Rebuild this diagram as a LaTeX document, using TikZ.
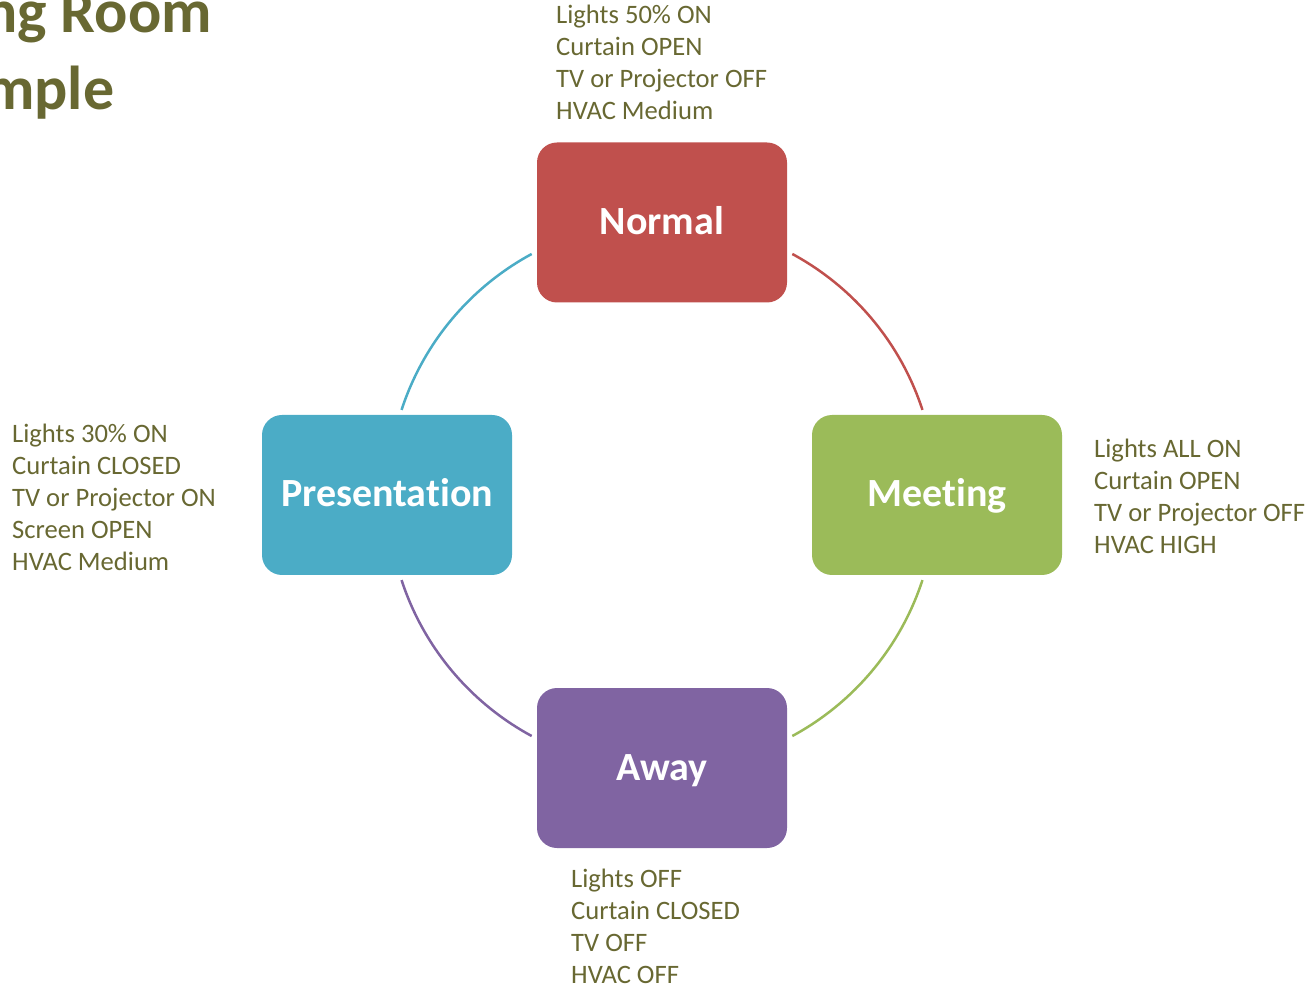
\documentclass[tikz,border=0pt]{standalone}
\usepackage{fontspec}
\setmainfont{Carlito}[Ligatures=NoCommon]
\definecolor{olivetext}{RGB}{104,104,50}
\definecolor{nred}{HTML}{C0504D}
\definecolor{nblue}{HTML}{4BACC6}
\definecolor{ngreen}{HTML}{9BBB59}
\definecolor{npurple}{HTML}{8064A2}
\tikzset{
  statebox/.style={rectangle, rounded corners=20pt, minimum width=250pt, minimum height=160pt,
    inner sep=0pt, text=white, font=\fontsize{40}{48}\selectfont\bfseries,
    text height=24pt, text depth=0pt},
  infotext/.style={anchor=base west, inner sep=0pt, text=olivetext, font=\fontsize{26.6}{32}\selectfont},
  titletext/.style={anchor=base west, inner sep=0pt, text=olivetext, font=\fontsize{62}{76}\selectfont\bfseries},
  ring/.style={line width=2.5pt}
}
\begin{document}
\begin{tikzpicture}[x=1pt,y=1pt]
\useasboundingbox (0,0) rectangle (1311,986);
\coordinate (c) at (662,491);

\node[titletext] (t1) at (-16,953) {ng Room};
\node[titletext] (t2) at (-16,876) {mple};

\node[statebox, fill=nred] (normal) at (662,763.5) {Normal};
\node[statebox, fill=ngreen] (meeting) at (937,491) {Meeting};
\node[statebox, fill=npurple] (away) at (662,218) {Away};
\node[statebox, fill=nblue] (presentation) at (387,491) {Presentation};

\draw[ring, nred] ([shift={(61.6:274)}]c) arc[start angle=61.6, end angle=18.1, radius=274];
\draw[ring, ngreen] ([shift={(-18.1:274)}]c) arc[start angle=-18.1, end angle=-61.6, radius=274];
\draw[ring, npurple] ([shift={(-118.4:274)}]c) arc[start angle=-118.4, end angle=-161.9, radius=274];
\draw[ring, nblue] ([shift={(161.9:274)}]c) arc[start angle=161.9, end angle=118.4, radius=274];

\node[infotext] (ninfo) at (556,962) {\vtop{\hbox{Lights 50\% ON}\hbox{Curtain OPEN}\hbox{TV or Projector OFF}\hbox{HVAC Medium}}};
\node[infotext] (pinfo) at (12,543) {\vtop{\hbox{Lights 30\% ON}\hbox{Curtain CLOSED}\hbox{TV or Projector ON}\hbox{Screen OPEN}\hbox{HVAC Medium}}};
\node[infotext] (minfo) at (1094,528) {\vtop{\hbox{Lights ALL ON}\hbox{Curtain OPEN}\hbox{TV or Projector OFF}\hbox{HVAC HIGH}}};
\node[infotext] (ainfo) at (571,99) {\vtop{\hbox{Lights OFF}\hbox{Curtain CLOSED}\hbox{TV OFF}\hbox{HVAC OFF}}};
\end{tikzpicture}
\end{document}
